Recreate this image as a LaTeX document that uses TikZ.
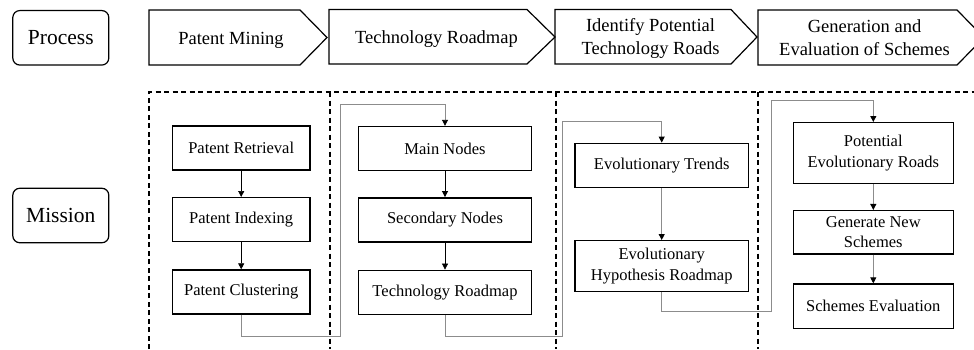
\documentclass[tikz,border=0pt]{standalone}
\usepackage{fontspec}
\setmainfont{Liberation Serif}
\usetikzlibrary{arrows.meta}
\begin{document}
\begin{tikzpicture}[x=1pt,y=-1pt,
  hdr/.style={line width=1.2pt,line join=miter},
  hdrtext/.style={font=\fontsize{18.5}{23}\selectfont,align=center,inner sep=0},
  rnd/.style={draw,line width=1.2pt,rounded corners=7pt,minimum width=96pt,minimum height=54.5pt,inner sep=0,font=\fontsize{21.5}{25}\selectfont},
  mbox/.style={draw,line width=1.4pt,inner sep=0,align=center,font=\fontsize{16.5}{20.6}\selectfont},
  dsh/.style={line width=1.5pt,dash pattern=on 5pt off 3.5pt},
  inarr/.style={line width=0.7pt,-{Triangle[length=6pt,width=6pt]}},
  garr/.style={line width=0.9pt,draw=black!45,-{Triangle[length=6pt,width=6pt,color=black,fill=black]}}
]
\useasboundingbox (0,0) rectangle (974,349);
% left labels
\node[rnd] (process) at (60.8,37.8) {Process};
\node[rnd] (mission) at (60.8,215.5) {Mission};
% header arrows
\draw[hdr] (149,10) -- (300,10) -- (327,37.5) -- (300,65) -- (149,65) -- cycle;
\draw[hdr] (329,9.5) -- (527,9.5) -- (555,37) -- (527,64) -- (329,64) -- cycle;
\draw[hdr] (555,9.5) -- (731,9.5) -- (757,37) -- (731,64) -- (555,64) -- cycle;
\draw[hdr] (758,10) -- (957,10) -- (984,37.5) -- (957,65) -- (758,65) -- cycle;
\node[hdrtext] (h1) at (231,40) {Patent Mining};
\node[hdrtext] (h2) at (436.5,39) {Technology Roadmap};
\node[hdrtext] (h3) at (650.5,38) {Identify Potential\\Technology Roads};
\node[hdrtext] (h4) at (864.5,38) {Generation and\\Evaluation of Schemes};
% dashed frame
\draw[dsh] (149,349) -- (149,92) -- (980,92);
\draw[dsh] (330,92) -- (330,349);
\draw[dsh] (556,92) -- (556,349);
\draw[dsh] (758,92) -- (758,349);
% column 1
\node[mbox,minimum width=137.7pt,minimum height=44pt] (pr) at (241.2,148) {Patent Retrieval};
\node[mbox,minimum width=137.7pt,minimum height=44pt] (pi) at (241.2,219.7) {Patent Indexing};
\node[mbox,minimum width=137.7pt,minimum height=44pt] (pc) at (241.2,292) {Patent Clustering};
% column 2
\node[mbox,minimum width=173.4pt,minimum height=44pt] (mn) at (445,148.5) {Main Nodes};
\node[mbox,minimum width=173.4pt,minimum height=44pt] (sn) at (445,219.8) {Secondary Nodes};
\node[mbox,minimum width=173.4pt,minimum height=44pt] (tr) at (445,292.3) {Technology Roadmap};
% column 3
\node[mbox,minimum width=173.3pt,minimum height=44pt] (et) at (661.7,165.3) {Evolutionary Trends};
\node[mbox,minimum width=173.3pt,minimum height=51pt] (ehr) at (661.7,266.2) {Evolutionary\\Hypothesis Roadmap};
% column 4
\node[mbox,minimum width=160pt,minimum height=60.6pt] (per) at (873.3,153) {Potential\\Evolutionary Roads};
\node[mbox,minimum width=160pt,minimum height=43.3pt] (gns) at (873.3,232.3) {Generate New\\Schemes};
\node[mbox,minimum width=160pt,minimum height=44.3pt] (se) at (873.3,306.2) {Schemes Evaluation};
% arrows within columns
\draw[inarr] (pr) -- (pi);
\draw[inarr] (pi) -- (pc);
\draw[inarr] (mn) -- (sn);
\draw[inarr] (sn) -- (tr);
\draw[garr] (et) -- (ehr);
\draw[garr] (per) -- (gns);
\draw[garr] (gns) -- (se);
% connectors between columns
\coordinate (a1) at (340.7,336);
\coordinate (a2) at (340.7,104.3);
\draw[garr] (pc.south) |- (a1) -- (a2) -| (mn.north);
\coordinate (b1) at (562.7,336);
\coordinate (b2) at (562.7,121.7);
\draw[garr] (tr.south) |- (b1) -- (b2) -| (et.north);
\coordinate (c1) at (771,311.7);
\coordinate (c2) at (771,100.7);
\draw[garr] (ehr.south) |- (c1) -- (c2) -| (per.north);
\end{tikzpicture}
\end{document}
